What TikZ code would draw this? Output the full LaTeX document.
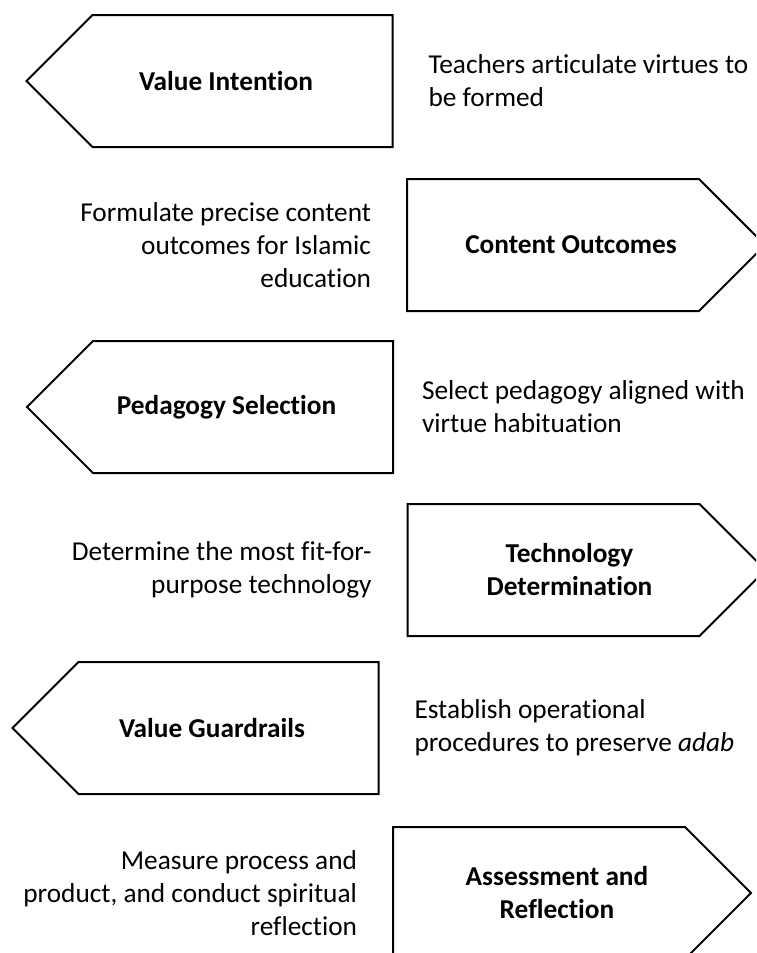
\documentclass[tikz,border=0pt]{standalone}
\usepackage{fontspec}
\setmainfont{Carlito}[Ligatures=NoCommon]
\usetikzlibrary{shapes.symbols, positioning}

\begin{document}
\begin{tikzpicture}[x=1pt,y=-1pt,node distance=34pt,line width=2pt]
    \tikzstyle{every node}=[font=\fontsize{27.3}{33}\selectfont]
    \tikzstyle{toleft}=[draw,signal,signal from=nowhere,signal to=west,signal pointer angle=90,minimum width=366pt,minimum height=132pt,inner sep=0pt]
    \tikzstyle{toright}=[draw,signal,signal from=nowhere,signal to=east,signal pointer angle=90,minimum width=358pt,minimum height=132pt,inner sep=0pt]
    \tikzstyle{title}=[font=\fontsize{27.3}{33}\selectfont\bfseries,align=center]
    \tikzstyle{desc}=[inner sep=0pt]
      \clip (0,0) rectangle (756,953);
      % stage arrows, alternating left and right
      \node[toleft]  (intent)   at (242.5,81) {};
      \node[toright] (content)  at (553,245)  {};
      \node[toleft]  (pedagogy) at (243,407)  {};
      \node[toright] (tech)     at (553.5,570) {};
      \node[toleft]  (guard)    at (228.5,728) {};
      \node[toright] (assess)   at (539,893)  {};

      % stage names
      \node[title] (intentname)   at ([xshift=-16.5pt]intent.center)  {Value Intention};
      \node[title] (contentname)  at ([xshift=18pt]content.center)    {Content Outcomes};
      \node[title] (pedagogyname) at ([xshift=-16.5pt]pedagogy.center) {Pedagogy Selection};
      \node[title] (techname)     at ([xshift=16pt]tech.center)       {Technology\\Determination};
      \node[title] (guardname)    at ([xshift=-16.5pt]guard.center)   {Value Guardrails};
      \node[title] (assessname)   at ([xshift=18pt]assess.center)     {Assessment and\\Reflection};

      % what each stage does
      \node[desc,right=of intent,align=left]      (intentdesc)   {Teachers articulate virtues to\\be formed};
      \node[desc,left=of content,align=right]     (contentdesc)  {Formulate precise content\\outcomes for Islamic\\education};
      \node[desc,right=27pt of pedagogy,align=left] (pedagogydesc) {Select pedagogy aligned with\\virtue habituation};
      \node[desc,left=of tech,align=right]        (techdesc)     {Determine the most fit-for-\\purpose technology};
      \node[desc,right=of guard,align=left]       (guarddesc)    {Establish operational\\procedures to preserve \emph{adab}};
      \node[desc,left=of assess,align=right]      (assessdesc)   {Measure process and\\product, and conduct spiritual\\reflection};
\end{tikzpicture}
\end{document}
